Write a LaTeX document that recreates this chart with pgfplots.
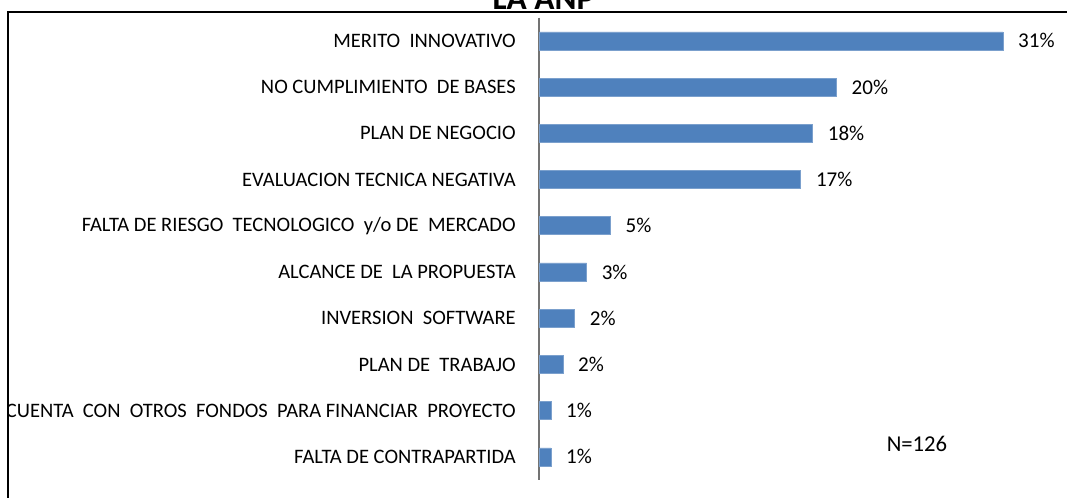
\documentclass[border=0pt]{standalone}
\usepackage{pgfplots}
\pgfplotsset{compat=1.18}
\usepackage{fontspec}
\setmainfont{Carlito}
\definecolor{barblue}{HTML}{4F81BD}
\begin{document}
\begin{tikzpicture}
\useasboundingbox (0,0) rectangle (800.25pt,-373.5pt);
\clip (0,0) rectangle (800.25pt,-373.5pt);
\begin{scope}
\clip (6pt,0) rectangle (800.25pt,-373.5pt);
\begin{axis}[
  at={(404.25pt,-360pt)}, anchor=south west,
  scale only axis, width=393.5pt, height=346.7pt,
  xbar, bar width=13.5pt,
  xmin=0, xmax=35,
  ymin=-0.5, ymax=9.5, y dir=reverse,
  axis x line=none, axis y line=left,
  y axis line style={-, draw=gray!90!black, line width=0.9pt},
  ytick={0,...,9}, major tick length=0pt,
  yticklabels={MERITO\ \ INNOVATIVO, NO CUMPLIMIENTO\ \ DE BASES, PLAN DE NEGOCIO,
    EVALUACION TECNICA NEGATIVA, FALTA DE RIESGO\ \ TECNOLOGICO\ \ y/o DE\ \ MERCADO,
    ALCANCE DE\ \ LA PROPUESTA, INVERSION\ \ SOFTWARE, PLAN DE\ \ TRABAJO,
    CUENTA\ \ CON\ \ OTROS\ \ FONDOS\ \ PARA FINANCIAR\ \ PROYECTO, FALTA DE CONTRAPARTIDA},
  yticklabel style={anchor=east, inner sep=0pt, xshift=-17.25pt,
    font=\fontsize{15.4}{18}\selectfont},
  nodes near coords={\pgfmathprintnumber[fixed, precision=0, assume math mode=true]{\pgfplotspointmeta}\%},
  nodes near coords style={anchor=west, inner sep=0pt, xshift=11.25pt,
    font=\fontsize{15.8}{18}\selectfont, text=black},
  point meta=x,
]
% porcentajes sobre N=126
\addplot[fill=barblue, draw=barblue!75!white] coordinates {
(30.95,0) (19.84,1) (18.25,2) (17.46,3) (4.76,4) (3.17,5) (2.38,6) (1.59,7) (0.79,8) (0.79,9)};
\end{axis}
\end{scope}
\draw[line width=1.3pt] (6pt,-380pt) -- (6pt,-9pt) -- (810pt,-9pt);
\node[anchor=base, inner sep=0pt, font=\fontsize{25}{30}\selectfont\bfseries]
  at (407.6pt,-7.5pt) {LA ANP};
\node[font=\fontsize{17}{20}\selectfont] at (687.75pt,-333pt) {N=126};
\end{tikzpicture}
\end{document}
